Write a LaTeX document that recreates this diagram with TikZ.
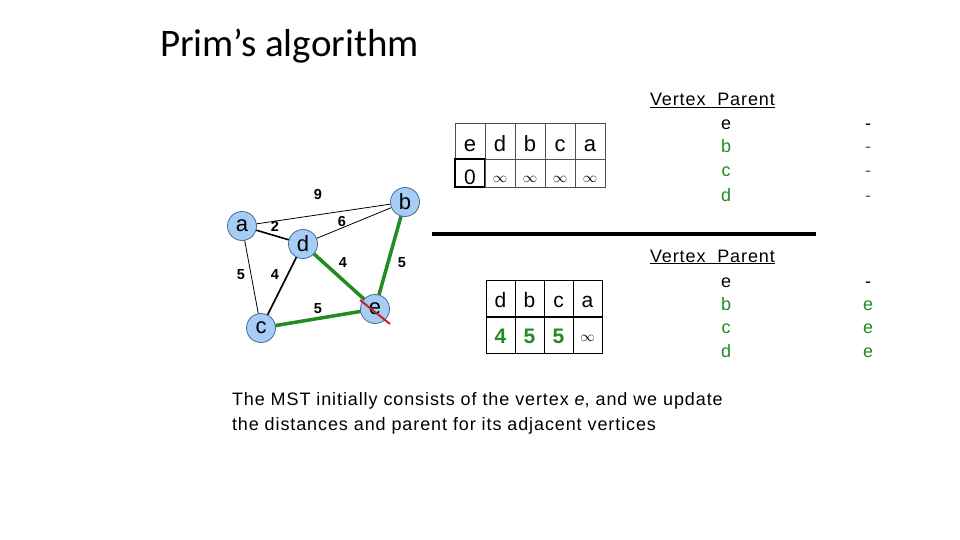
\documentclass[tikz,border=0pt]{standalone}
\usepackage{fontspec}
\setmainfont{Liberation Sans}
\newfontfamily\titlefont{Carlito}
\newfontfamily\slidefont[LetterSpace=5]{Liberation Sans}
\usetikzlibrary{positioning, calc, backgrounds}
\definecolor{mstgreen}{HTML}{228B22}
\definecolor{vtxblue}{HTML}{A6CDF5}
\definecolor{vtxline}{HTML}{4A6A8F}
\definecolor{cutred}{HTML}{C8202A}
\definecolor{cellgray}{HTML}{505050}

\begin{document}
\begin{tikzpicture}[
  x=1pt, y=-1pt,
  every node/.style={inner sep=0pt, outer sep=0pt},
  vertex/.style={circle, draw=vtxline, fill=vtxblue, line width=0.8pt, minimum size=29pt, font=\fontsize{22}{22}\selectfont},
  weight/.style={font=\fontsize{14.5}{14.5}\selectfont\bfseries},
  thin edge/.style={line width=0.8pt},
  mid edge/.style={line width=1.6pt},
  tree edge/.style={mstgreen, line width=3.5pt},
  hcell/.style={rectangle, draw=cellgray, line width=0.8pt, minimum width=30pt, minimum height=36pt, text height=21pt, text depth=0pt, font=\fontsize{22}{22}\selectfont},
  dcell/.style={rectangle, draw=cellgray, line width=0.8pt, minimum width=30pt, minimum height=28pt, text height=24pt, text depth=0pt, font=\fontsize{21}{21}\selectfont},
  infcell/.style={dcell, font=\fontsize{14}{14}\selectfont, text height=19pt},
  hcellb/.style={hcell, draw=black, minimum width=29pt, minimum height=37pt, text height=17pt, font=\fontsize{21}{21}\selectfont},
  dcellb/.style={dcell, draw=black, minimum width=29pt, minimum height=36pt, text height=17pt, font=\fontsize{21}{21}\selectfont\bfseries, text=mstgreen},
  listtext/.style={anchor=base, font=\slidefont\fontsize{18}{18}\selectfont},
  body/.style={anchor=base west, font=\slidefont\fontsize{18}{18}\selectfont},
]
\useasboundingbox (0,0) rectangle (960,540);

\node[anchor=base west, font=\titlefont\fontsize{39}{39}\selectfont] (title) at (160,57) {Prim’s algorithm};

\node[vertex] (a) at (242,226) {a};
\node[vertex] (b) at (405,202) {b};
\node[vertex] (d) at (303,244) {d};
\node[vertex] (e) at (375,309) {e};
\node[vertex] (c) at (261,328) {c};

\begin{scope}[on background layer]
\draw[thin edge] (a) -- (b);
\draw[thin edge] (a) -- (c);
\draw[thin edge] (d) -- (b);
\draw[mid edge] (a) -- (d);
\draw[mid edge] (d) -- (c);
\draw[tree edge] (d) -- (e);
\draw[tree edge] (b) -- (e);
\draw[tree edge] (c) -- (e);
\end{scope}

\node[weight] (wab) at (318,195) {9};
\node[weight] (wad) at (275,226) {2};
\node[weight] (wdb) at (342,222) {6};
\node[weight] (wac) at (241,275) {5};
\node[weight] (wdc) at (275,275) {4};
\node[weight] (wde) at (343,263) {4};
\node[weight] (wbe) at (402,263) {5};
\node[weight] (wce) at (318,309) {5};

\coordinate (cut1) at (360,300);
\coordinate (cut2) at (390,324);

\node[hcell] (he) at (470,141) {e};
\node[hcell, right=0pt of he] (hd) {d};
\node[hcell, right=0pt of hd] (hb) {b};
\node[hcell, right=0pt of hb] (hc) {c};
\node[hcell, right=0pt of hc] (ha) {a};
\node[dcell, below=0pt of he, draw=black, line width=2pt] (de) {0};
\node[infcell, below=0pt of hd] (dd) {$\infty$};
\node[infcell, below=0pt of hb] (db) {$\infty$};
\node[infcell, below=0pt of hc] (dc) {$\infty$};
\node[infcell, below=0pt of ha] (da) {$\infty$};

\coordinate (divl) at (432,234);
\coordinate (divr) at (816,234);

\node[hcellb] (gd) at (500.5,298.5) {d};
\node[hcellb, right=0pt of gd] (gb) {b};
\node[hcellb, right=0pt of gb] (gc) {c};
\node[hcellb, right=0pt of gc] (ga) {a};
\node[dcellb, below=0pt of gd] (kd) {4};
\node[dcellb, below=0pt of gb] (kb) {5};
\node[dcellb, below=0pt of gc] (kc) {5};
\node[dcellb, below=0pt of ga, font=\fontsize{14}{14}\selectfont, text=black, text height=13pt] (ka) {$\infty$};

\node[body] (vp1) at (650,106) {\underline{Vertex\ \ Parent}};
\node[listtext] (v1e) at (726,130) {e};
\node[listtext, text=mstgreen] (v1b) at (726,153) {b};
\node[listtext, text=mstgreen] (v1c) at (726,177) {c};
\node[listtext, text=mstgreen] (v1d) at (726,201) {d};
\node[listtext] (p1e) at (868,130) {-};
\node[listtext, text=mstgreen] (p1b) at (868,153) {-};
\node[listtext, text=mstgreen] (p1c) at (868,177) {-};
\node[listtext, text=mstgreen] (p1d) at (868,201) {-};

\node[body] (vp2) at (650,262) {\underline{Vertex\ \ Parent}};
\node[listtext] (v2e) at (726,287) {e};
\node[listtext, text=mstgreen] (v2b) at (726,310) {b};
\node[listtext, text=mstgreen] (v2c) at (726,333) {c};
\node[listtext, text=mstgreen] (v2d) at (726,357) {d};
\node[listtext] (p2e) at (868,287) {-};
\node[listtext, text=mstgreen] (p2b) at (868,310) {e};
\node[listtext, text=mstgreen] (p2c) at (868,333) {e};
\node[listtext, text=mstgreen] (p2d) at (868,357) {e};

\node[body] (note1) at (232,405.5) {The MST initially consists of the vertex \textit{e}, and we update};
\node[body] (note2) at (232,430) {the distances and parent for its adjacent vertices};

\draw[line width=2pt] (kd.north west) -- (ka.north east);
\draw[line width=4pt] (divl) -- (divr);
\draw[cutred, line width=2pt] (cut1) -- (cut2);

\end{tikzpicture}
\end{document}
